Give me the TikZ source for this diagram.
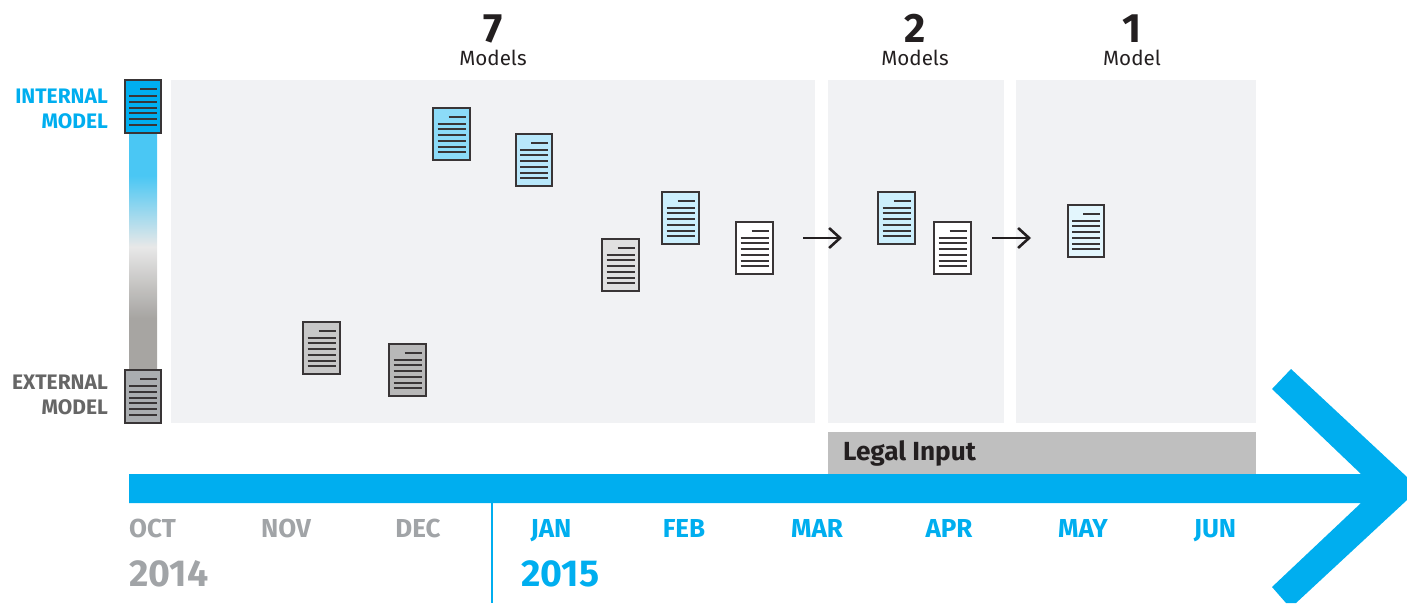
\documentclass[tikz,border=0pt]{standalone}
\usepackage{fontspec}
\setmainfont{Fira Sans}
\usepackage{tikz}
\usetikzlibrary{arrows.meta}

\definecolor{skyblue}{HTML}{00AEEF}
\definecolor{monthgray}{HTML}{A1A4A7}
\definecolor{panelgray}{HTML}{F1F2F4}
\definecolor{inkblack}{HTML}{231F20}
\definecolor{barblue}{HTML}{4AC7F4}
\definecolor{bargray}{HTML}{A7A5A2}
\definecolor{barmid}{HTML}{E8E8E8}

\pgfdeclareverticalshading{scalebar}{100bp}{
	color(0bp)=(bargray);
	color(25bp)=(bargray);
	color(36bp)=(bargray);
	color(51bp)=(barmid);
	color(66bp)=(barblue);
	color(75bp)=(barblue);
	color(100bp)=(barblue)}

\tikzset{
	panel/.style = {fill=panelgray},
	doc/.style = {draw=inkblack!90, line width=2pt, fill=#1, minimum width=36.5pt, minimum height=52.5pt, inner sep=0pt,
		path picture={
			\draw[inkblack!90, line width=2pt] ([xshift=-3pt, yshift=17.5pt]path picture bounding box.center) -- ++(17pt,0);
			\foreach \i in {0,...,5}
				\draw[inkblack!90, line width=2pt] ([xshift=-14pt, yshift=10.5pt-5.75pt*\i]path picture bounding box.center) -- ++(28pt,0);
		}},
	month/.style = {font=\fontsize{26}{26}\selectfont\bfseries, inner sep=0pt, anchor=base},
	year/.style = {font=\fontsize{37.5}{37.5}\selectfont\bfseries, inner sep=0pt, anchor=base west},
	count/.style = {font=\fontsize{41}{41}\selectfont\bfseries, text=inkblack, inner sep=0pt, anchor=base},
	unit/.style = {font=\fontsize{20.6}{20.6}\selectfont, text=inkblack, inner sep=0pt, anchor=base},
	scalelabel/.style = {font=\fontsize{21}{25}\selectfont\bfseries, inner sep=0pt, anchor=base east},
	step arrow/.style = {->, >={Straight Barb[length=11pt, width=20pt]}, inkblack, line width=2.6pt}
}

\begin{document}
\begin{tikzpicture}[x=1pt, y=-1pt]
	\useasboundingbox (0,0) rectangle (1407,603);
	% panels
	\fill[panel] (171,80) rectangle (815,423);
	\fill[panel] (828,80) rectangle (1004,423);
	\fill[panel] (1016,80) rectangle (1256,423);
	\node[fill=black!25!white, minimum width=428pt, minimum height=42pt, inner sep=0pt] (legal) at (1042,453) {};
	\node[font=\fontsize{26.2}{26.2}\selectfont\bfseries, text=inkblack, inner sep=0pt, anchor=base west] (legaltext) at (843,460) {Legal Input};
	% scale on the left
	\shade[shading=scalebar] (129,133) rectangle (157,370);
	\node[doc=skyblue] (internal) at (143,106.5) {};
	\node[doc=monthgray!90] (external) at (143,396.5) {};
	\node[scalelabel, text=skyblue] (internal1) at (108,103) {INTERNAL};
	\node[scalelabel, text=skyblue] (internal2) at (108,128) {MODEL};
	\node[scalelabel, text=black!60] (external1) at (108,389) {EXTERNAL};
	\node[scalelabel, text=black!60] (external2) at (108,414) {MODEL};
	% model documents
	\node[doc=skyblue!45] (m1) at (451.5,134) {};
	\node[doc=skyblue!28] (m2) at (534,160) {};
	\node[doc=black!12] (m3) at (620.5,265) {};
	\node[doc=skyblue!20] (m4) at (680.5,218) {};
	\node[doc=white] (m5) at (754.5,248) {};
	\node[doc=black!22] (m6) at (321.5,348) {};
	\node[doc=black!28] (m7) at (407.5,370) {};
	\node[doc=skyblue!20] (m8) at (896.5,218) {};
	\node[doc=white] (m9) at (952.5,248) {};
	\node[doc=skyblue!11] (m10) at (1086,231) {};
	% arrows between rounds
	\coordinate (a1) at (803,238);
	\coordinate (a2) at (842,238);
	\coordinate (a3) at (992,238);
	\coordinate (a4) at (1031,238);
	\draw[step arrow] (a1) -- (a2);
	\draw[step arrow] (a3) -- (a4);
	% counts
	\node[count] (c1) at (493,42) {7};
	\node[unit] (u1) at (493,65) {Models};
	\node[count] (c2) at (915,42) {2};
	\node[unit] (u2) at (915,65) {Models};
	\node[count] (c3) at (1132,42) {1};
	\node[unit] (u3) at (1132,65) {Model};
	% timeline
	\fill[skyblue] (129,474) -- (1361,474) -- (1272,389) -- (1291,369) -- (1407,477) -- (1407,500) -- (1296,603) -- (1286,603) -- (1272,587) -- (1361,503) -- (129,503) -- cycle;
	\coordinate (yeartop) at (492,503);
	\coordinate (yearbottom) at (492,603);
	\draw[skyblue, line width=1.5pt] (yeartop) -- (yearbottom);
	\node[month, text=monthgray, anchor=base west] (oct) at (129,537) {OCT};
	\node[month, text=monthgray] (nov) at (286,537) {NOV};
	\node[month, text=monthgray] (dec) at (418,537) {DEC};
	\node[month, text=skyblue] (jan) at (551,537) {JAN};
	\node[month, text=skyblue] (feb) at (684,537) {FEB};
	\node[month, text=skyblue] (mar) at (817,537) {MAR};
	\node[month, text=skyblue] (apr) at (949,537) {APR};
	\node[month, text=skyblue] (may) at (1083,537) {MAY};
	\node[month, text=skyblue] (jun) at (1215,537) {JUN};
	\node[year, text=monthgray] (y2014) at (129,586) {2014};
	\node[year, text=skyblue] (y2015) at (521,586) {2015};
\end{tikzpicture}
\end{document}
